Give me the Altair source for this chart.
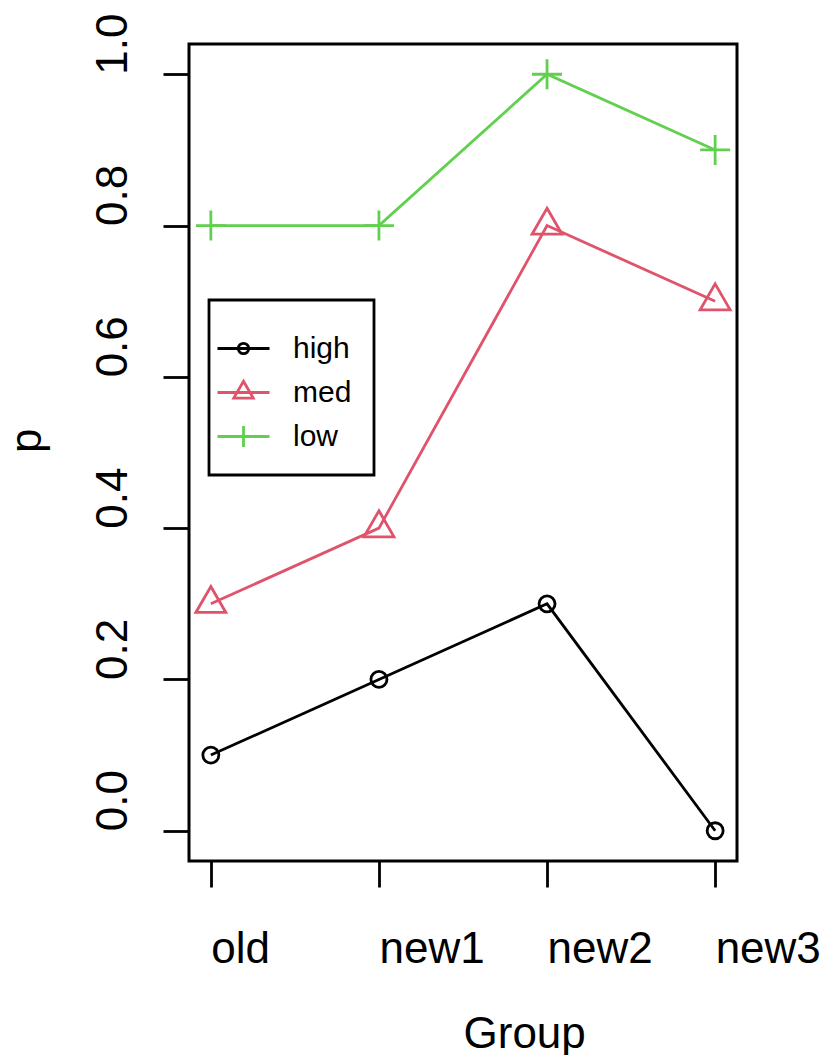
import altair as alt
import pandas as pd

# ---- data ----
groups = ["old", "new1", "new2", "new3"]
series = ["high", "med", "low"]
high = [0.1, 0.2, 0.3, 0.0]
med = [0.3, 0.4, 0.8, 0.7]
low = [0.8, 0.8, 1.0, 0.9]
colors = ["#000000", "#DF536B", "#61D04F"]
y_ticks = [0.0, 0.2, 0.4, 0.6, 0.8, 1.0]

# ---- styles ----
FONT = "Liberation Sans"
marker_paths = [
    "M0.533,0A0.533,0.533 0 1,1 -0.533,0A0.533,0.533 0 1,1 0.533,0Z",
    "M0,-1.155L1,0.577L-1,0.577Z",
    "M-1,0L1,0M0,-1L0,1",
]
# legend glyphs: line + smaller marker (unit = 24.6 px)
legend_paths = [
    "M-1.057,0L1.057,0M0.211,0A0.211,0.211 0 1,1 -0.211,0A0.211,0.211 0 1,1 0.211,0Z",
    "M-1.057,0L1.057,0M0,-0.458L0.396,0.229L-0.396,0.229Z",
    "M-1.057,0L1.057,0M0,-0.427L0,0.427",
]

values = {"high": high, "med": med, "low": low}
rows = []
for s in series:
    for g, v in zip(groups, values[s]):
        rows.append({"Group": g, "p": v, "series": s})
df = pd.DataFrame(rows)

W, H = 548, 817

x_enc = alt.X(
    "Group:N",
    sort=groups,
    scale=alt.Scale(type="point", domain=groups, padding=0.13),
    axis=alt.Axis(
        title="Group",
        labelAngle=0,
        labelAlign="left",
        labelBaseline="alphabetic",
        labelPadding=75,
        labelFontSize=44,
        labelFont=FONT,
        labelColor="black",
        tickSize=26,
        tickWidth=2.8,
        tickColor="black",
        domain=False,
        grid=False,
        labelOverlap=False,
        titleFontSize=44,
        titleFont=FONT,
        titleFontWeight="normal",
        titleColor="black",
        titleX=W / 2,
        titleY=186,
        titleAlign="left",
        titleBaseline="alphabetic",
        titleAngle=0,
    ),
)
y_enc = alt.Y(
    "p:Q",
    scale=alt.Scale(domain=[-0.04, 1.04], nice=False, zero=False),
    axis=alt.Axis(
        title="p",
        values=y_ticks,
        format=".1f",
        labelAngle=270,
        labelAlign="left",
        labelBaseline="alphabetic",
        labelPadding=37,
        labelFontSize=44,
        labelFont=FONT,
        labelColor="black",
        tickSize=26,
        tickWidth=2.8,
        tickColor="black",
        domain=False,
        grid=False,
        labelOverlap=False,
        titleFontSize=44,
        titleFont=FONT,
        titleFontWeight="normal",
        titleColor="black",
        titleX=-149,
        titleY=H / 2,
        titleAngle=270,
        titleAlign="left",
        titleBaseline="alphabetic",
    ),
)

base = alt.Chart(df)

layers = []
for s, c, path in zip(series, colors, marker_paths):
    layers.append(
        base.transform_filter(alt.datum.series == s)
        .mark_line(
            color=c,
            strokeWidth=2.8,
            opacity=1,
            point=alt.OverlayMarkDef(
                shape=path, size=900, filled=False, fill="transparent",
                stroke=c, strokeWidth=2.8, color=c, opacity=1,
            ),
        )
        .encode(x=x_enc, y=y_enc)
    )

leg = alt.Legend(
    title=None,
    orient="none",
    legendX=20,
    legendY=256,
    padding=22,
    rowPadding=2,
    symbolSize=2421,
    symbolOffset=-14,
    symbolStrokeWidth=2.8,
    symbolOpacity=1,
    labelOffset=23,
    labelFontSize=30,
    labelFont=FONT,
    labelColor="black",
    strokeColor="black",
    fillColor="white",
)

legend_layer = (
    base.transform_filter(alt.datum.p > 5)
    .mark_point(filled=False, strokeWidth=2.8, size=2421, opacity=1)
    .encode(
        x=x_enc,
        y=y_enc,
        color=alt.Color("series:N", scale=alt.Scale(domain=series, range=colors), legend=leg),
        shape=alt.Shape("series:N", scale=alt.Scale(domain=series, range=legend_paths), legend=leg),
    )
)
layers.append(legend_layer)

chart = (
    alt.layer(*layers)
    .properties(
        width=W,
        height=H,
        autosize=alt.AutoSizeParams(type="none"),
        padding={"left": 189, "top": 44, "right": 89, "bottom": 194},
        background="white",
    )
    .configure_view(stroke="black", strokeWidth=3)
    .configure_legend(strokeWidth=2.8)
)

chart.save("out.html", embed_options={"renderer": "svg", "actions": False})
